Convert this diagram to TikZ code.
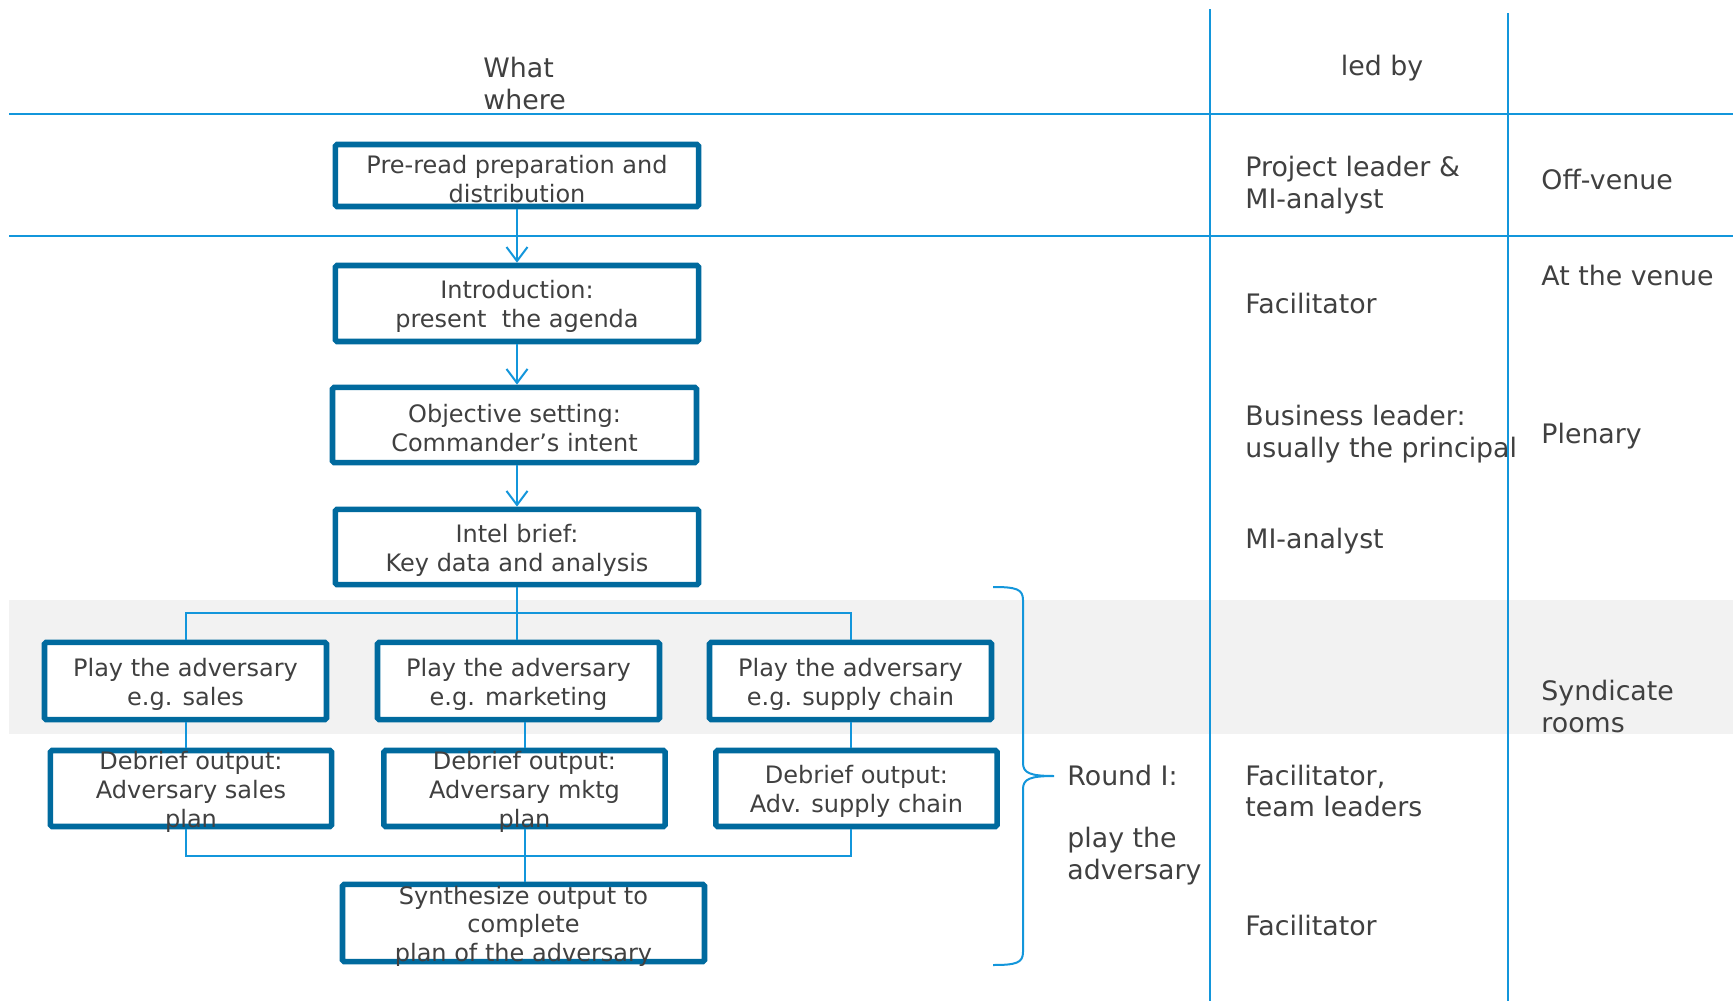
\documentclass[tikz,border=0pt]{standalone}
\usepackage{fontspec}
\setmainfont{DejaVu Sans}
\usetikzlibrary{arrows.meta}
\definecolor{boxblue}{HTML}{006A9E}
\definecolor{lineblue}{HTML}{1396DB}
\definecolor{txt}{HTML}{404040}
\definecolor{band}{HTML}{F2F2F2}
\begin{document}
\begin{tikzpicture}[x=0.5pt,y=-0.5pt,
  bx/.style={draw=boxblue, line width=2.8pt, fill=white, inner sep=0pt, rounded corners=0.8pt},
  tx/.style={align=center, text=txt, font=\fontsize{12}{14.4}\selectfont, inner sep=0pt, yshift=-1.6pt},
  side/.style={anchor=west, align=left, text=txt, font=\fontsize{13.4}{16}\selectfont, inner sep=0pt},
  thin/.style={draw=lineblue, line width=1pt},
  arr/.style={thin, -{Straight Barb[length=7pt,width=10.5pt,line width=1pt]}}]
\useasboundingbox (0,0) rectangle (1736,1001);
% band
\fill[band] (9,600) rectangle (1733,734);
% grid lines
\draw[thin] (9,114) -- (1733,114);
\draw[thin] (9,236) -- (1733,236);
\draw[thin] (1210,9) -- (1210,1001);
\draw[thin] (1508,13) -- (1508,1001);
% headers
\node[side] (hw) at (483,84) {What\\where};
\node[side, anchor=center] (hl) at (1382,68) {led by};
% boxes
\node[bx, minimum width=181.6pt, minimum height=31pt, label={[tx]center:{Pre-read preparation and\\distribution}}] (b1) at (517,175.5) {};
\node[bx, minimum width=181.6pt, minimum height=38pt, label={[tx]center:{Introduction:\\present\ \ the agenda}}] (b2) at (517,303.5) {};
\node[bx, minimum width=182pt, minimum height=37.6pt, label={[tx]center:{Objective setting:\\Commander’s intent}}] (b3) at (514.5,425) {};
\node[bx, minimum width=181.6pt, minimum height=37.6pt, label={[tx]center:{Intel brief:\\Key data and analysis}}] (b4) at (517,547) {};
\node[bx, minimum width=141pt, minimum height=38.6pt, label={[tx]center:{Play the adversary\\e.g. sales}}] (p1) at (185.5,681) {};
\node[bx, minimum width=141pt, minimum height=38.6pt, label={[tx]center:{Play the adversary\\e.g. marketing}}] (p2) at (518.5,681) {};
\node[bx, minimum width=141pt, minimum height=38.6pt, label={[tx]center:{Play the adversary\\e.g. supply chain}}] (p3) at (850.5,681) {};
\node[bx, minimum width=140.6pt, minimum height=38pt, label={[tx]center:{Debrief output:\\Adversary sales\\plan}}] (d1) at (191,788.5) {};
\node[bx, minimum width=140.6pt, minimum height=38pt, label={[tx]center:{Debrief output:\\Adversary mktg\\plan}}] (d2) at (524.5,788.5) {};
\node[bx, minimum width=140.6pt, minimum height=38pt, label={[tx]center:{Debrief output:\\Adv. supply chain}}] (d3) at (856.5,788.5) {};
\node[bx, minimum width=181pt, minimum height=38.6pt, label={[tx]center:{Synthesize output to\\complete\\plan of the adversary}}] (s) at (523.5,923) {};
% arrows
\draw[arr] (b1.south) -- (b1.south |- b2.north);
\draw[arr] (b2.south) -- (b2.south |- b3.north);
\draw[arr] (b3.south -| b2.south) -- (b4.north);
% tree
\coordinate (t) at (517,613);
\draw[thin] (b4.south) -- (b4.south |- p2.north);
\draw[thin] (p1.north) |- (t);
\draw[thin] (p3.north) |- (t);
\draw[thin] (p1.south) -- (p1.south |- d1.north);
\draw[thin] (p2.south -| d2.north) -- (d2.north);
\draw[thin] (p3.south) -- (p3.south |- d3.north);
\coordinate (u) at (524.5,856);
\draw[thin] (p1.south |- d1.south) |- (u) -| (p3.south |- d3.south);
\draw[thin] (d2.south) -- (d2.south |- s.north);
% brace
\draw[thin] (993,587) .. controls (1016,587) and (1023,589) .. (1023,600) -- (1023,763)
  .. controls (1023,773) and (1030,776) .. (1054,776)
  .. controls (1030,776) and (1023,779) .. (1023,789) -- (1023,952)
  .. controls (1023,963) and (1016,965) .. (993,965);
\node[side] (r1) at (1067,776) {Round I:};
\node[side] (r2) at (1067,856) {play the\\adversary};
% led by column
\node[side] (l1) at (1245,185) {Project leader \&\\MI-analyst};
\node[side] (l2) at (1245,304) {Facilitator};
\node[side] (l3) at (1245,434) {Business leader:\\usually the principal};
\node[side] (l4) at (1245,541) {MI-analyst};
\node[side] (l5) at (1245,791) {Facilitator,\\team leaders};
\node[side] (l6) at (1245,925) {Facilitator};
% where column
\node[side] (w1) at (1541,180) {Off-venue};
\node[side] (w2) at (1541,276) {At the venue};
\node[side] (w3) at (1541,436) {Plenary};
\node[side] (w4) at (1541,707) {Syndicate\\rooms};
\end{tikzpicture}
\end{document}
